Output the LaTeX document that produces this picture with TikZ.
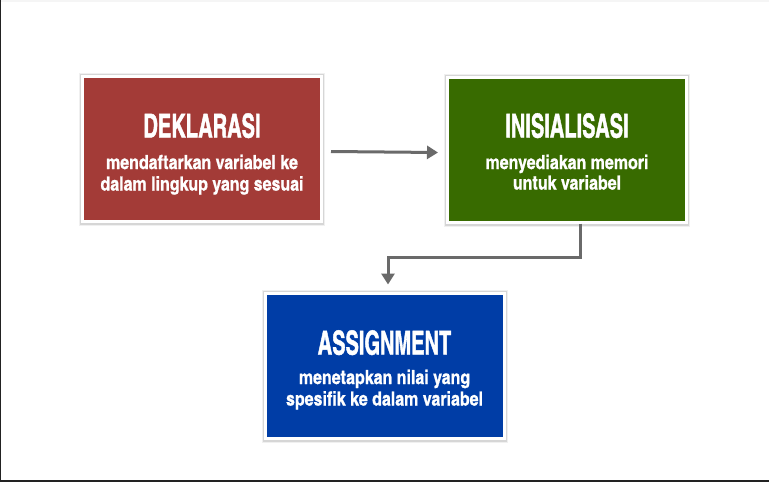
\documentclass[tikz,border=0pt]{standalone}
\usepackage{fontspec}
\usetikzlibrary{arrows.meta,backgrounds}
\newfontfamily\titlefont{texgyreheroscn-bold.otf}[FakeStretch=0.74,FakeBold=1.2]
\newfontfamily\subfont{texgyreheroscn-bold.otf}[FakeBold=0.8]
\definecolor{cred}{HTML}{A33B37}
\definecolor{cgreen}{HTML}{386B00}
\definecolor{cblue}{HTML}{003DA6}
\definecolor{carrow}{HTML}{6A6A6A}
\definecolor{frame}{HTML}{222222}
\tikzset{
  box/.style={draw=white, line width=3pt, minimum width=239pt, minimum height=145pt, inner sep=0pt},
  ttl/.style={anchor=base, text=white, font=\titlefont\fontsize{33}{33}\selectfont, inner sep=0pt},
  sub/.style={anchor=base, text=white, font=\subfont\fontsize{19.5}{21.5}\selectfont, inner sep=0pt},
  arr/.style={draw=carrow, line width=3pt, -{Triangle[length=11pt,width=13pt]}},
  shadowA/.style={fill=black!6},
  shadowB/.style={fill=black!16}
}
\begin{document}
\begin{tikzpicture}[x=1pt,y=-1pt]
\useasboundingbox (0,0) rectangle (769,482);
% boxes
\node[box, fill=cred]   (dek) at (202,148.5) {};
\node[box, fill=cgreen] (ini) at (567,149.5) {};
\node[box, fill=cblue]  (asg) at (384.5,365.5) {};
% titles
\node[ttl] (dekT) at ([yshift=-63pt]dek.north) {DEKLARASI};
\node[ttl] (iniT) at ([yshift=-62pt]ini.north) {INISIALISASI};
\node[ttl] (asgT) at ([yshift=-63pt]asg.north) {ASSIGNMENT};
% subtitles
\node[sub] (dekA) at ([yshift=-94.5pt]dek.north) {mendaftarkan variabel ke};
\node[sub] (dekB) at ([yshift=-116pt]dek.north) {dalam lingkup yang sesuai};
\node[sub] (iniA) at ([yshift=-93.5pt]ini.north) {menyediakan memori};
\node[sub] (iniB) at ([yshift=-114pt]ini.north) {untuk variabel};
\node[sub] (asgA) at ([yshift=-92.5pt]asg.north) {menetapkan nilai yang};
\node[sub] (asgB) at ([yshift=-114pt]asg.north) {spesifik ke dalam variabel};
% arrows
\draw[arr] ([xshift=8pt,yshift=-3pt]dek.east) -- ([xshift=-8pt,yshift=-3pt]ini.west);
\draw[arr] ([xshift=13pt]ini.south) -- ++(0,34) -| ([xshift=3.5pt,yshift=7pt]asg.north);
% background, shadows and frame
\begin{scope}[on background layer]
  \fill[white] (0,0) rectangle (769,482);
  \fill[black!4] (0,0) rectangle (769,2);
  \foreach \n in {dek,ini,asg}{
    \fill[shadowA] ([shift={(-2,-1.5)}]\n.north west) rectangle ([shift={(2,3.5)}]\n.south east);
    \fill[shadowB] ([shift={(-1,-0.5)}]\n.north west) rectangle ([shift={(1,2)}]\n.south east);
  }
  \fill[frame] (0,0) rectangle (1.3,482);
  \fill[frame] (0,479.5) rectangle (769,482);
\end{scope}
\end{tikzpicture}
\end{document}
